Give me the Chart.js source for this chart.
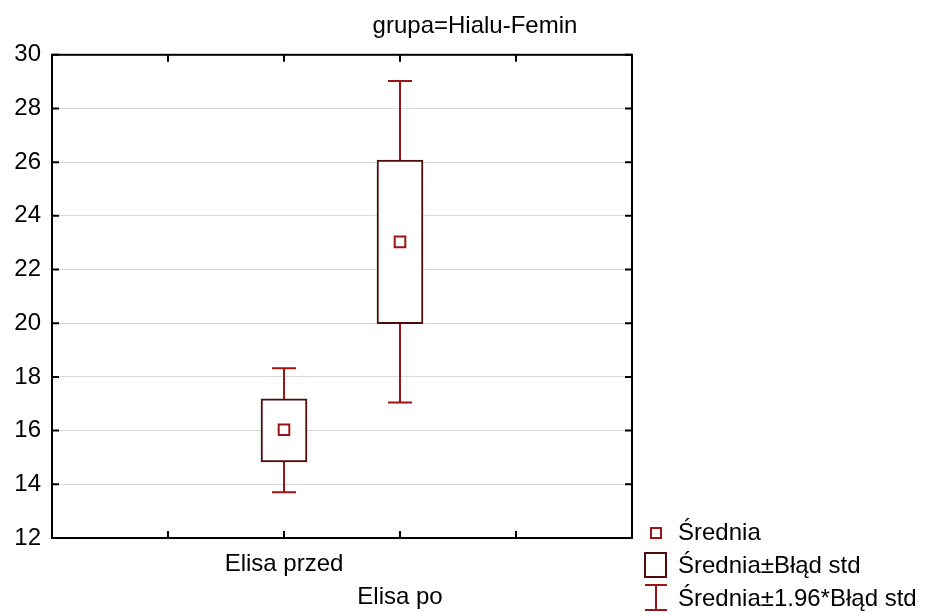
<!DOCTYPE html>
<html>
<head>
<meta charset="utf-8">
<script src="https://cdn.jsdelivr.net/npm/chart.js@4"></script>
<style>
  html, body { margin: 0; padding: 0; background: #fff; }
  #wrap { width: 940px; height: 612px; }
</style>
</head>
<body>
<div id="wrap"><canvas id="chart"></canvas></div>
<script>
// ---- data ----
const categories = ['Elisa przed', 'Elisa po'];
const means = [16.03, 23.03];
const boxLow = [14.83, 19.98];      // mean - std err
const boxHigh = [17.18, 26.08];     // mean + std err
const whiskerLow = [13.7, 17.05];   // mean - 1.96*std err
const whiskerHigh = [18.32, 29.02]; // mean + 1.96*std err
const yTicks = [12, 14, 16, 18, 20, 22, 24, 26, 28, 30];
const legendLabels = ['Średnia', 'Średnia±Błąd std', 'Średnia±1.96*Błąd std'];
const titleText = 'grupa=Hialu-Femin';

const FIRST_SLOT = 2; // categories sit on slots 2 and 3 of a 0..5 axis
const BOX_COLOR = '#4f0b0b';
const RED = '#9c1414';
const FONT = 'Arial, "Liberation Sans", sans-serif';
const TEXT_SIZE = 24;

Chart.defaults.font.family = FONT;
Chart.defaults.color = '#000';

// whiskers behind boxes
const whiskerPlugin = {
    id: 'whiskers',
    beforeDatasetsDraw(chart) {
        const { ctx, scales: { x, y } } = chart;
        ctx.save();
        ctx.strokeStyle = RED;
        ctx.lineWidth = 2;
        categories.forEach((c, i) => {
            const px = Math.round(x.getPixelForValue(i + FIRST_SLOT));
            const lo = y.getPixelForValue(whiskerLow[i]);
            const hi = y.getPixelForValue(whiskerHigh[i]);
            ctx.beginPath();
            ctx.moveTo(px, lo);
            ctx.lineTo(px, hi);
            ctx.moveTo(px - 12, lo);
            ctx.lineTo(px + 12, lo);
            ctx.moveTo(px - 12, hi);
            ctx.lineTo(px + 12, hi);
            ctx.stroke();
        });
        ctx.restore();
    }
};

// frame with inside tick marks, and the legend in the lower right
const framePlugin = {
    id: 'frame',
    afterDraw(chart) {
        const { ctx, chartArea: a, scales: { x, y } } = chart;
        ctx.save();
        ctx.strokeStyle = '#000';
        ctx.lineWidth = 2;
        ctx.beginPath();
        y.ticks.forEach((t, i) => {
            const py = y.getPixelForTick(i);
            ctx.moveTo(a.left, py);
            ctx.lineTo(a.left + 7, py);
            ctx.moveTo(a.right - 7, py);
            ctx.lineTo(a.right, py);
        });
        x.ticks.forEach((t, i) => {
            if (t.value <= x.min || t.value >= x.max) return;
            const px = x.getPixelForTick(i);
            ctx.moveTo(px, a.bottom);
            ctx.lineTo(px, a.bottom - 7);
            ctx.moveTo(px, a.top);
            ctx.lineTo(px, a.top + 7);
        });
        ctx.stroke();
        ctx.strokeRect(a.left, a.top, a.right - a.left, a.bottom - a.top);

        // legend
        const lx = a.right + 13;
        const tx = a.right + 46;
        const rows = [532, 565, 598];
        ctx.lineWidth = 2;
        ctx.strokeStyle = RED;
        ctx.strokeRect(lx + 6, rows[0] - 4, 10, 10);
        ctx.strokeStyle = BOX_COLOR;
        ctx.strokeRect(lx, rows[1] - 12, 21, 24);
        ctx.strokeStyle = RED;
        ctx.beginPath();
        ctx.moveTo(lx + 11, rows[2] - 13);
        ctx.lineTo(lx + 11, rows[2] + 12);
        ctx.moveTo(lx, rows[2] - 13);
        ctx.lineTo(lx + 22, rows[2] - 13);
        ctx.moveTo(lx, rows[2] + 12);
        ctx.lineTo(lx + 22, rows[2] + 12);
        ctx.stroke();

        ctx.fillStyle = '#000';
        ctx.font = TEXT_SIZE + 'px ' + FONT;
        ctx.textAlign = 'left';
        ctx.textBaseline = 'middle';
        legendLabels.forEach((txt, i) => ctx.fillText(txt, tx, rows[i] + 1));
        ctx.restore();
    }
};

new Chart(document.getElementById('chart'), {
    data: {
        datasets: [
            {
                type: 'scatter',
                label: legendLabels[0],
                data: means.map((m, i) => ({ x: i + FIRST_SLOT, y: m })),
                pointStyle: 'rect',
                pointRadius: 7.5,
                pointBorderWidth: 2,
                pointBorderColor: RED,
                pointBackgroundColor: '#fff',
                order: 0
            },
            {
                type: 'bar',
                label: legendLabels[1],
                data: categories.map((c, i) => ({ x: i + FIRST_SLOT, y: [boxLow[i], boxHigh[i]] })),
                backgroundColor: '#fff',
                borderColor: BOX_COLOR,
                borderWidth: 2,
                borderSkipped: false,
                barThickness: 46,
                grouped: false,
                order: 1
            }
        ]
    },
    options: {
        responsive: true,
        maintainAspectRatio: false,
        animation: false,
        layout: { padding: { left: 10, right: 0, top: 0, bottom: 0 } },
        plugins: {
            legend: { display: false },
            tooltip: { enabled: false },
            title: {
                display: true,
                text: titleText,
                color: '#000',
                font: { size: TEXT_SIZE, weight: 'normal' },
                padding: { top: 12, bottom: 14 }
            }
        },
        scales: {
            x: {
                type: 'linear',
                offset: false,
                min: 0,
                max: 5,
                grid: { display: false, drawTicks: false, offset: false },
                border: { display: false },
                ticks: {
                    stepSize: 1,
                    autoSkip: false,
                    maxRotation: 0,
                    padding: 10,
                    font: { size: TEXT_SIZE, lineHeight: '33px' },
                    callback: (v) => {
                        const i = v - FIRST_SLOT;
                        if (i < 0 || i >= categories.length) return '';
                        return i % 2 === 0 ? [categories[i], ''] : ['', categories[i]];
                    }
                },
                afterFit: (s) => { s.height = 74; }
            },
            y: {
                min: yTicks[0],
                max: yTicks[yTicks.length - 1],
                grid: { color: '#dadada', lineWidth: 1, drawTicks: false },
                border: { display: false },
                ticks: {
                    stepSize: 2,
                    padding: 11,
                    font: { size: TEXT_SIZE }
                },
                afterFit: (s) => { s.width = 42; }
            },
            y2: {
                position: 'right',
                min: yTicks[0],
                max: yTicks[yTicks.length - 1],
                grid: { display: false, drawTicks: false },
                border: { display: false },
                ticks: { display: false },
                afterFit: (s) => { s.width = 308; }
            }
        }
    },
    plugins: [whiskerPlugin, framePlugin]
});
</script>
</body>
</html>
